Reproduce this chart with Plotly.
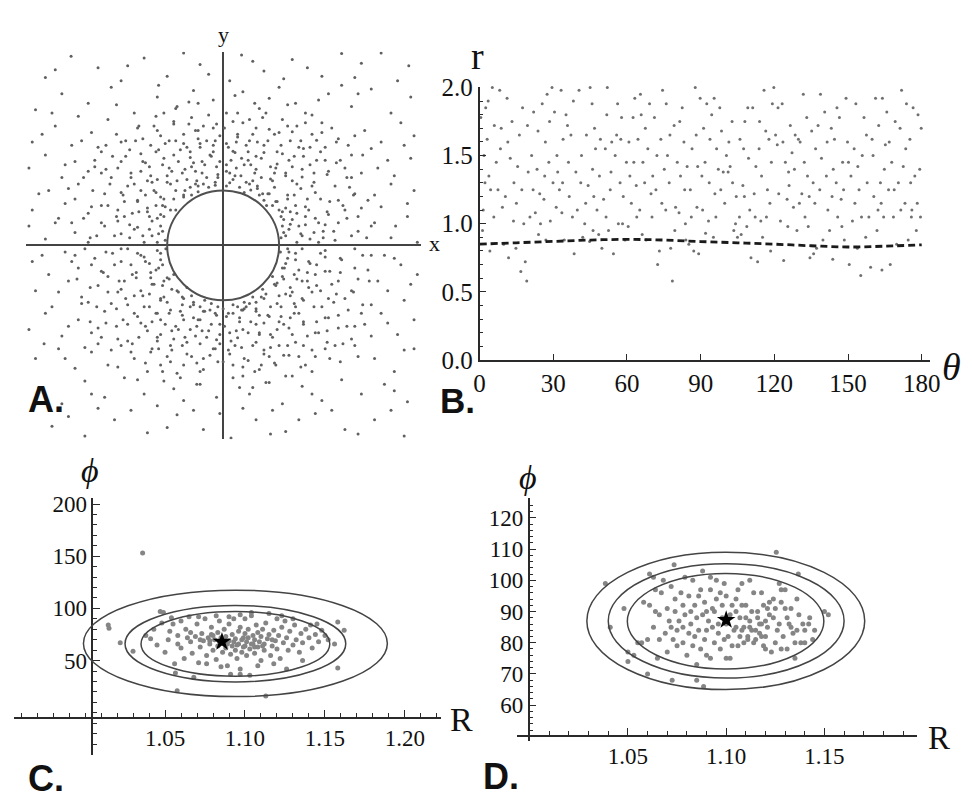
import plotly.graph_objects as go

W, H = 972, 806

# ---------------- Panel A: scattered points (x, y) ----------------
A_pts = [
(-2.31,2.93),(-1.9,2.75),(-1.2,2.9),(-0.85,2.62),(-0.35,2.8),(0.28,2.95),(0.62,2.7),(1.05,2.88),(1.5,2.62),(2.1,2.82),(2.65,2.55),(-2.7,2.6),(-0.6,2.98),(1.8,2.97),(0.1,2.55),(-1.55,2.55),(2.4,2.98),
(-2.85,2.1),(-2.45,2.35),(-2.05,2.2),(-1.7,2.45),(-1.35,2.05),(-1.0,2.3),(-0.7,2.15),(-0.45,2.4),(-0.15,2.25),(0.05,2.05),(0.3,2.38),(0.55,2.12),(0.85,2.45),(1.1,2.2),(1.35,2.02),(1.6,2.35),(1.95,2.15),(2.25,2.42),(2.55,2.05),(2.85,2.3),(-2.2,2.0),(0.7,2.28),(-0.9,2.05),(1.8,2.48),
(-2.9,1.6),(-2.55,1.85),(-2.3,1.55),(-2.0,1.75),(-1.75,1.95),(-1.55,1.6),(-1.3,1.82),(-1.1,1.55),(-0.95,1.7),(-0.75,1.92),(-0.6,1.58),(-0.42,1.78),(-0.25,1.62),(-0.1,1.88),(0.08,1.52),(0.22,1.72),(0.4,1.95),(0.52,1.6),(0.7,1.8),(0.88,1.55),(1.05,1.76),(1.25,1.9),(1.42,1.63),(1.65,1.82),(1.9,1.55),(2.15,1.78),(2.4,1.6),(2.7,1.9),(2.9,1.7),(-0.35,1.52),(0.35,1.55),(-1.9,1.52),(1.15,1.52),(-0.05,1.7),(0.6,1.98),
(-2.95,1.2),(-2.7,1.4),(-2.45,1.05),(-2.25,1.3),(-2.05,1.15),(-1.85,1.45),(-1.7,1.05),(-1.55,1.3),(-1.4,1.12),(-1.25,1.42),(-1.12,1.22),(-1.0,1.02),(-0.9,1.35),(-0.78,1.15),(-0.65,1.48),(-0.55,1.02),(-0.45,1.28),(-0.32,1.12),(-0.2,1.4),(-0.08,1.05),(0.05,1.25),(0.15,1.46),(0.27,1.08),(0.38,1.32),(0.5,1.18),(0.62,1.44),(0.72,1.03),(0.82,1.26),(0.95,1.12),(1.08,1.38),(1.2,1.06),(1.32,1.25),(1.48,1.45),(1.6,1.15),(1.78,1.32),(1.95,1.05),(2.12,1.4),(2.35,1.2),(2.6,1.08),(2.85,1.35),(-0.4,1.0),(0.45,1.0),(-1.15,1.0),
(-2.9,0.55),(-2.65,0.85),(-2.4,0.65),(-2.2,0.95),(-2.0,0.6),(-1.8,0.8),(-1.6,0.55),(-1.45,0.92),(-1.3,0.7),(-1.15,0.52),(-1.05,0.85),(-0.92,0.62),(-0.8,0.95),(-0.72,0.55),(-0.6,0.75),(-0.5,0.9),(-0.3,0.95),(-0.12,0.93),(0.1,0.97),(0.25,0.9),(0.42,0.86),(0.55,0.78),(0.66,0.62),(0.78,0.9),(0.85,0.55),(0.98,0.72),(1.12,0.95),(1.25,0.6),(1.4,0.82),(1.58,0.52),(1.75,0.7),(1.92,0.9),(2.1,0.58),(2.3,0.78),(2.55,0.95),(2.8,0.65),(-0.38,0.83),(0.7,0.8),(-1.5,0.68),(1.02,0.52),
(-2.95,0.3),(-2.7,0.1),(-2.5,0.42),(-2.25,0.2),(-2.05,0.05),(-1.85,0.35),(-1.65,0.15),(-1.5,0.45),(-1.35,0.25),(-1.2,0.05),(-1.08,0.38),(-0.98,0.18),(-0.9,0.45),(-0.88,0.08),(0.88,0.12),(0.92,0.4),(1.0,0.25),(1.12,0.05),(1.25,0.45),(1.38,0.2),(1.55,0.32),(1.7,0.08),(1.88,0.42),(2.05,0.22),(2.3,0.35),(2.55,0.12),(2.8,0.45),(2.95,0.05),(-1.6,0.38),(1.15,0.3),
(-2.9,-0.25),(-2.65,-0.45),(-2.4,-0.1),(-2.2,-0.35),(-1.95,-0.2),(-1.75,-0.48),(-1.55,-0.05),(-1.4,-0.3),(-1.25,-0.15),(-1.1,-0.42),(-1.0,-0.08),(-0.92,-0.3),(-0.87,-0.05),(0.87,-0.1),(0.9,-0.35),(0.98,-0.2),(1.08,-0.45),(1.2,-0.05),(1.32,-0.28),(1.48,-0.12),(1.62,-0.4),(1.8,-0.22),(2.0,-0.05),(2.2,-0.38),(2.45,-0.15),(2.7,-0.3),(2.95,-0.45),(-1.65,-0.3),(1.4,-0.45),(-2.1,-0.05),
(-2.85,-0.7),(-2.6,-0.95),(-2.35,-0.55),(-2.15,-0.8),(-1.9,-0.62),(-1.7,-0.9),(-1.5,-0.55),(-1.35,-0.78),(-1.2,-0.95),(-1.05,-0.6),(-0.95,-0.82),(-0.82,-0.52),(-0.7,-0.7),(-0.62,-0.92),(-0.48,-0.78),(-0.35,-0.95),(-0.18,-0.9),(0.0,-0.98),(0.15,-0.92),(0.32,-0.88),(0.45,-0.8),(0.6,-0.68),(0.72,-0.95),(0.82,-0.58),(0.95,-0.75),(1.08,-0.9),(1.2,-0.55),(1.35,-0.72),(1.5,-0.95),(1.65,-0.6),(1.85,-0.82),(2.05,-0.52),(2.25,-0.92),(2.5,-0.7),(2.75,-0.85),(-0.55,-0.65),(0.5,-0.98),(-1.6,-0.72),(1.72,-0.75),
(-2.95,-1.3),(-2.7,-1.05),(-2.45,-1.4),(-2.2,-1.15),(-2.0,-1.35),(-1.8,-1.02),(-1.62,-1.25),(-1.45,-1.48),(-1.3,-1.1),(-1.15,-1.32),(-1.02,-1.05),(-0.88,-1.22),(-0.75,-1.45),(-0.62,-1.08),(-0.5,-1.3),(-0.38,-1.15),(-0.25,-1.42),(-0.12,-1.05),(0.02,-1.25),(0.12,-1.48),(0.25,-1.12),(0.38,-1.35),(0.5,-1.02),(0.62,-1.2),(0.75,-1.42),(0.88,-1.1),(1.0,-1.28),(1.15,-1.05),(1.28,-1.4),(1.42,-1.18),(1.58,-1.32),(1.75,-1.08),(1.95,-1.45),(2.15,-1.22),(2.4,-1.05),(2.65,-1.38),(2.9,-1.15),(-0.3,-1.02),(0.3,-1.0),(-1.0,-1.48),
(-2.85,-1.75),(-2.5,-1.6),(-2.25,-1.9),(-2.0,-1.65),(-1.75,-1.85),(-1.55,-1.55),(-1.35,-1.75),(-1.15,-1.95),(-0.98,-1.6),(-0.8,-1.8),(-0.62,-1.55),(-0.48,-1.72),(-0.3,-1.92),(-0.15,-1.6),(0.0,-1.8),(0.18,-1.55),(0.32,-1.75),(0.48,-1.95),(0.62,-1.62),(0.8,-1.85),(0.98,-1.55),(1.15,-1.72),(1.35,-1.95),(1.55,-1.6),(1.78,-1.8),(2.0,-1.55),(2.3,-1.75),(2.6,-1.95),(2.9,-1.6),(-0.7,-1.98),(0.7,-1.72),(-1.9,-1.52),
(-2.8,-2.2),(-2.45,-2.45),(-2.1,-2.1),(-1.8,-2.35),(-1.5,-2.05),(-1.2,-2.3),(-0.9,-2.1),(-0.6,-2.4),(-0.35,-2.15),(-0.1,-2.35),(0.15,-2.05),(0.4,-2.3),(0.65,-2.12),(0.9,-2.45),(1.2,-2.18),(1.5,-2.4),(1.8,-2.08),(2.1,-2.3),(2.45,-2.15),(2.8,-2.42),(-1.0,-2.48),(1.05,-2.02),
(-2.6,-2.8),(-2.1,-2.95),(-1.65,-2.7),(-1.15,-2.9),(-0.7,-2.62),(-0.3,-2.85),(0.12,-2.98),(0.5,-2.7),(0.95,-2.88),(1.4,-2.6),(1.85,-2.85),(2.3,-2.7),(2.75,-2.95),(-1.9,-2.52),(0.75,-2.55),(-0.05,-2.6),(2.55,-2.55),
(0.92,0.2),(0.88,0.45),(0.75,0.62),(0.6,0.8),(0.4,0.95),(0.15,1.02),(-0.12,0.98),(-0.38,0.92),(-0.6,0.78),(-0.8,0.55),(-0.95,0.3),(-1.0,0.05),(-0.95,-0.22),(-0.85,-0.5),(-0.68,-0.72),(-0.45,-0.88),(-0.2,-1.0),(0.08,-1.05),(0.35,-0.95),(0.58,-0.8),(0.78,-0.6),(0.93,-0.35),(1.0,-0.1),
(1.2,0.15),(1.12,0.5),(0.98,0.78),(0.75,1.0),(0.48,1.12),(0.2,1.2),(-0.1,1.22),(-0.42,1.15),(-0.7,1.0),(-0.95,0.75),(-1.12,0.45),(-1.22,0.15),(-1.2,-0.18),(-1.1,-0.5),(-0.9,-0.8),(-0.65,-1.02),(-0.35,-1.15),(-0.05,-1.22),(0.25,-1.18),(0.55,-1.08),(0.82,-0.9),(1.02,-0.65),(1.15,-0.38),
(1.45,0.05),(1.4,0.42),(1.28,0.72),(1.05,1.0),(0.8,1.2),(0.5,1.38),(0.18,1.44),(-0.15,1.45),(-0.5,1.36),(-0.82,1.2),(-1.08,0.98),(-1.3,0.68),(-1.42,0.32),(-1.45,-0.05),(-1.38,-0.45),(-1.22,-0.78),(-1.0,-1.05),(-0.72,-1.25),(-0.42,-1.4),(-0.1,-1.46),(0.22,-1.43),(0.55,-1.35),(0.85,-1.18),(1.1,-0.95),(1.3,-0.65),(1.42,-0.3),
(-2.55,2.72),(-1.45,2.78),(-0.98,2.48),(-0.22,2.65),(0.45,2.85),(0.92,2.58),(1.28,2.75),(2.0,2.6),(2.82,2.78),(-0.52,2.22),(0.18,2.32),(1.45,2.25),(-1.62,2.18),(2.05,2.35),(-2.6,2.05),
(-2.75,1.72),(-2.4,1.25),(-2.15,1.62),(-1.95,1.22),(-1.62,1.72),(-1.48,1.38),(-1.33,1.62),(-1.18,1.28),(-1.05,1.85),(-0.98,1.48),(-0.85,1.08),(-0.72,1.62),(-0.68,1.3),(-0.52,1.88),(-0.5,1.45),(-0.38,1.65),(-0.28,1.25),(-0.15,1.55),(-0.05,1.3),(0.02,1.82),(0.1,1.12),(0.2,1.6),(0.32,1.25),(0.45,1.72),(0.58,1.35),(0.68,1.62),(0.78,1.12),(0.9,1.42),(0.98,1.85),(1.05,1.22),(1.18,1.62),(1.22,1.38),(1.38,1.12),(1.5,1.75),(1.55,1.32),(1.72,1.6),(1.85,1.2),(2.0,1.7),(2.25,1.5),(2.5,1.32),(2.75,1.55),(-0.58,1.18),(0.38,1.45),(-0.88,1.58),(1.32,1.52),(-1.78,1.18),(0.15,1.92),(-0.3,1.85),(0.85,1.75),(-1.25,1.15),
(-2.8,0.8),(-2.55,0.35),(-2.35,0.88),(-2.12,0.42),(-1.92,0.15),(-1.75,0.62),(-1.55,0.82),(-1.42,0.12),(-1.28,0.52),(-1.18,0.78),(-1.12,0.25),(-1.02,0.62),(-0.95,0.48),(-0.9,0.72),(-0.72,0.85),(-0.48,0.78),(-0.22,0.9),(0.05,0.92),(0.32,0.82),(0.52,0.92),(0.62,0.7),(0.8,0.68),(0.9,0.3),(0.95,0.58),(1.05,0.4),(1.08,0.78),(1.18,0.18),(1.3,0.55),(1.35,0.92),(1.45,0.35),(1.62,0.68),(1.68,0.22),(1.85,0.55),(2.0,0.8),(2.18,0.12),(2.4,0.6),(2.62,0.3),(2.9,0.85),(-1.35,0.95),(1.52,0.12),
(-2.75,-0.15),(-2.5,-0.72),(-2.3,-0.25),(-2.05,-0.88),(-1.85,-0.4),(-1.68,-0.12),(-1.55,-0.68),(-1.45,-0.92),(-1.32,-0.5),(-1.18,-0.25),(-1.12,-0.75),(-1.02,-0.38),(-0.92,-0.62),(-0.85,-0.88),(-0.75,-0.45),(-0.5,-0.95),(-0.28,-0.85),(-0.08,-0.95),(0.22,-0.95),(0.4,-0.9),(0.62,-0.82),(0.75,-0.48),(0.85,-0.78),(0.92,-0.52),(0.98,-0.05),(1.05,-0.72),(1.1,-0.22),(1.22,-0.85),(1.28,-0.42),(1.42,-0.62),(1.55,-0.18),(1.6,-0.82),(1.78,-0.42),(1.95,-0.7),(2.12,-0.15),(2.35,-0.55),(2.6,-0.2),(2.85,-0.6),(-0.6,-0.82),(0.28,-1.0),
(-2.72,-1.52),(-2.35,-1.25),(-2.1,-1.58),(-1.9,-1.28),(-1.7,-1.62),(-1.52,-1.15),(-1.38,-1.52),(-1.25,-1.2),(-1.1,-1.65),(-1.08,-1.18),(-0.95,-1.38),(-0.82,-1.05),(-0.78,-1.62),(-0.68,-1.3),(-0.55,-1.5),(-0.45,-1.12),(-0.4,-1.82),(-0.32,-1.32),(-0.2,-1.7),(-0.18,-1.22),(-0.05,-1.52),(0.05,-1.1),(0.1,-1.68),(0.2,-1.32),(0.3,-1.88),(0.42,-1.18),(0.45,-1.55),(0.55,-1.38),(0.68,-1.08),(0.72,-1.58),(0.82,-1.3),(0.92,-1.7),(1.02,-1.12),(1.1,-1.5),(1.22,-1.22),(1.35,-1.62),(1.45,-1.35),(1.6,-1.12),(1.7,-1.55),(1.88,-1.25),(2.05,-1.72),(2.25,-1.4),(2.5,-1.2),(2.75,-1.62),(-1.6,-1.88),(1.25,-1.85),(-0.95,-1.85),(0.58,-1.85),(-2.4,-1.75),(2.1,-1.05),
(-2.35,-2.65),(-1.4,-2.55),(-0.85,-2.82),(-0.45,-2.55),(0.3,-2.52),(0.72,-2.92),(1.15,-2.7),(1.65,-2.55),(2.05,-2.92),(-2.0,-2.3),(-0.75,-2.22),(0.25,-2.2),(1.35,-2.3),(2.6,-2.25),(-1.3,-2.08),
(0.95,0.15),(1.02,0.33),(0.9,0.52),(0.82,0.68),(0.68,0.8),(0.52,0.88),(0.35,0.98),(0.18,1.08),(0.05,1.15),(1.1,0.62),(1.25,0.32),(1.32,0.1),(1.18,0.88),(0.95,1.08),(0.72,1.22),(0.58,1.05),(0.42,1.25),(0.28,1.35),(0.12,1.32),(1.52,0.22),(1.6,0.48),(1.48,0.72),(1.38,0.98),(1.2,1.18),(1.0,1.32),(0.82,1.45),(0.62,1.55),(0.4,1.62),(0.22,1.68),(0.05,1.58),(1.75,0.35),(1.82,0.62),(1.7,0.92),(1.58,1.1),(1.42,1.32),(1.22,1.5),(1.02,1.62),(0.78,1.72),(0.5,1.82),(0.3,1.9),(1.95,0.15),(2.05,0.45),(1.98,0.78),(1.88,1.05),(1.72,1.28),(1.55,1.52),(1.35,1.72),(1.12,1.85),(0.9,1.95),(0.65,2.05),(2.25,0.3),(2.2,0.7),(2.1,1.12),(1.95,1.4),(1.75,1.65),(1.5,1.9),(1.25,2.05),(0.98,2.18),(0.48,2.2),(0.22,2.05),
(-0.92,0.22),(-1.0,0.42),(-0.88,0.6),(-0.75,0.72),(-0.58,0.85),(-0.42,0.95),(-0.25,1.05),(-0.08,1.1),(-1.08,0.15),(-1.15,0.58),(-1.02,0.82),(-0.85,0.98),(-0.62,1.12),(-0.48,1.22),(-0.32,1.3),(-0.18,1.38),(-1.3,0.28),(-1.38,0.5),(-1.25,0.85),(-1.1,1.08),(-0.92,1.25),(-0.75,1.4),(-0.55,1.52),(-0.35,1.58),(-0.12,1.62),(-1.55,0.18),(-1.62,0.45),(-1.52,0.78),(-1.4,1.05),(-1.22,1.3),(-1.02,1.45),(-0.82,1.62),(-0.6,1.72),(-0.38,1.78),(-0.15,1.82),(-1.8,0.3),(-1.85,0.62),(-1.72,0.95),(-1.6,1.2),(-1.42,1.48),(-1.22,1.65),(-1.0,1.78),(-0.75,1.88),(-0.48,1.98),(-0.22,2.02),(-2.02,0.12),(-2.05,0.5),(-1.98,0.85),(-1.85,1.12),(-1.68,1.38),(-1.48,1.62),(-1.28,1.85),(-1.02,2.0),(-0.72,2.12),(-0.38,2.2),(-2.3,0.35),(-2.25,0.72),(-2.12,1.05),(-1.95,1.32),(-1.78,1.55),
(-0.95,-0.12),(-0.98,-0.35),(-0.9,-0.55),(-0.78,-0.68),(-0.62,-0.8),(-0.45,-0.92),(-0.28,-1.02),(-0.1,-1.08),(-1.12,-0.28),(-1.08,-0.6),(-0.95,-0.85),(-0.8,-1.0),(-0.6,-1.15),(-0.4,-1.25),(-0.22,-1.32),(-0.05,-1.38),(-1.3,-0.12),(-1.32,-0.42),(-1.25,-0.7),(-1.12,-0.95),(-0.95,-1.15),(-0.78,-1.32),(-0.58,-1.42),(-0.35,-1.52),(-0.12,-1.6),(-1.55,-0.25),(-1.58,-0.55),(-1.48,-0.82),(-1.35,-1.05),(-1.18,-1.25),(-1.0,-1.42),(-0.8,-1.55),(-0.55,-1.68),(-0.3,-1.75),(-0.08,-1.8),(-1.78,-0.1),(-1.82,-0.42),(-1.75,-0.72),(-1.62,-0.98),(-1.45,-1.22),(-1.28,-1.42),(-1.08,-1.6),(-0.85,-1.72),(-0.6,-1.85),(-0.35,-1.95),(-2.0,-0.3),(-2.02,-0.65),(-1.92,-0.95),(-1.78,-1.2),(-1.6,-1.45),(-1.4,-1.65),(-1.18,-1.82),(-0.92,-1.95),(-0.65,-2.05),(-0.4,-2.15),(-2.25,-0.15),(-2.22,-0.52),(-2.15,-0.9),(-2.02,-1.18),(-1.85,-1.42),
(0.95,-0.28),(0.9,-0.48),(0.8,-0.62),(0.65,-0.75),(0.5,-0.88),(0.32,-0.98),(0.15,-1.05),(1.1,-0.12),(1.12,-0.52),(1.02,-0.78),(0.88,-0.95),(0.7,-1.1),(0.5,-1.22),(0.3,-1.3),(0.1,-1.35),(1.3,-0.25),(1.28,-0.55),(1.2,-0.82),(1.08,-1.05),(0.92,-1.22),(0.72,-1.38),(0.5,-1.5),(0.28,-1.58),(0.08,-1.62),(1.55,-0.08),(1.55,-0.4),(1.48,-0.7),(1.38,-0.95),(1.22,-1.18),(1.05,-1.38),(0.85,-1.55),(0.62,-1.68),(0.38,-1.78),(0.15,-1.85),(1.78,-0.2),(1.75,-0.55),(1.68,-0.88),(1.55,-1.12),(1.4,-1.35),(1.22,-1.55),(1.0,-1.7),(0.78,-1.82),(0.55,-1.92),(0.3,-2.02),(2.0,-0.35),(1.98,-0.72),(1.9,-1.0),(1.75,-1.28),(1.58,-1.5),(1.4,-1.72),(1.18,-1.88),(0.95,-2.02),(0.7,-2.12),(0.45,-2.2),(2.25,-0.15),(2.22,-0.55),(2.12,-0.92),(2.0,-1.25),(1.82,-1.52),(1.62,-1.75),
]
A_x = [p[0] for p in A_pts]
A_y = [p[1] for p in A_pts]
A_circle_r = 0.85

# ---------------- Panel B: (theta, r) ----------------
B_pts = [
(0.5,1.78),(1.2,0.95),(1.8,1.5),(2.5,1.85),(3.1,1.62),(3.8,1.35),(4.5,1.25),(5.2,2.0),(6.0,1.72),(6.8,1.45),(7.5,1.25),(8.2,1.98),(8.8,1.7),(9.3,1.12),(9.8,0.85),(4.2,0.8),
(10.5,1.2),(11.2,1.92),(11.8,0.75),(12.5,1.48),(13.2,1.75),(14.0,1.3),(14.8,0.82),(15.5,1.42),(16.2,1.65),(16.8,0.65),(17.5,1.85),(18.0,1.0),(18.6,0.72),(19.2,0.58),(19.8,1.38),(15.0,1.15),
(20.5,1.05),(21.2,1.5),(22.0,1.82),(22.7,1.08),(23.4,1.4),(24.0,0.92),(24.8,1.0),(25.5,1.88),(26.2,1.18),(26.8,1.6),(27.5,1.95),(28.2,1.45),(28.8,1.02),(29.5,2.0),(29.9,1.3),(27.0,0.88),
(30.5,1.82),(31.2,1.12),(31.8,1.38),(32.5,1.25),(33.2,1.98),(33.8,1.3),(34.5,0.88),(35.2,1.8),(35.8,1.72),(36.5,1.2),(37.2,1.65),(37.8,1.05),(38.5,0.78),(39.2,1.38),(39.8,1.1),(34.0,1.62),
(40.5,1.98),(41.2,1.3),(42.0,0.9),(42.8,1.0),(43.5,1.65),(44.2,1.28),(45.0,2.0),(45.8,1.88),(46.5,1.2),(47.2,1.55),(47.8,1.1),(48.5,0.92),(49.2,1.62),(49.8,0.82),(44.8,0.87),(46.0,1.4),
(50.5,1.18),(51.2,1.55),(51.8,1.8),(52.5,0.95),(53.2,1.25),(53.8,1.6),(54.5,0.78),(55.2,1.5),(55.8,1.65),(56.5,1.0),(57.2,1.3),(57.8,1.78),(58.5,1.2),(59.2,0.88),(59.8,1.45),(52.0,2.0),
(60.5,0.98),(61.2,1.35),(61.8,1.15),(62.5,1.78),(63.2,1.92),(63.8,1.28),(64.5,1.62),(65.2,1.1),(65.8,1.8),(66.5,1.45),(67.2,1.3),(67.8,0.88),(68.5,1.55),(69.2,1.88),(69.8,1.22),(64.0,1.05),
(70.5,1.35),(71.2,1.78),(71.8,1.25),(72.5,0.7),(73.2,0.8),(73.8,1.62),(74.5,1.98),(75.2,1.4),(75.8,1.1),(76.5,1.5),(77.2,1.3),(77.8,0.82),(78.5,0.58),(79.2,1.72),(79.8,1.12),(76.0,1.88),
(80.5,1.45),(81.2,1.08),(81.8,1.35),(82.5,1.85),(83.2,1.6),(83.8,1.0),(84.5,1.42),(85.2,0.85),(85.8,1.25),(86.5,1.55),(87.2,0.8),(87.8,2.0),(88.5,1.12),(89.2,0.78),(89.8,1.92),(84.0,0.88),
(90.5,1.35),(91.2,1.7),(91.8,1.45),(92.5,1.88),(93.2,1.02),(93.8,1.62),(94.5,1.8),(95.2,0.9),(95.8,1.22),(96.5,1.55),(97.2,1.4),(97.8,1.85),(98.5,1.68),(99.2,1.38),(99.8,1.15),(92.0,0.93),
(100.5,1.5),(101.2,1.38),(102.0,1.42),(102.8,1.75),(103.5,0.95),(104.2,1.0),(105.0,0.9),(105.8,1.05),(106.5,0.92),(107.2,1.28),(108.0,1.75),(108.8,0.98),(109.5,1.48),(110.0,1.1),(106.0,1.62),(103.0,1.3),
(110.5,0.75),(111.2,1.85),(111.8,1.22),(112.5,1.42),(113.2,0.72),(113.8,1.55),(114.5,1.02),(115.2,0.9),(115.8,1.98),(116.5,1.68),(117.2,1.25),(117.8,1.62),(118.5,0.8),(119.2,1.88),(119.8,2.0),(114.0,1.75),
(120.5,1.65),(121.2,1.58),(121.8,1.22),(122.5,1.02),(123.2,1.88),(123.8,0.73),(124.5,1.45),(125.2,1.18),(125.8,1.38),(126.5,1.72),(127.2,1.52),(127.8,1.12),(128.5,1.65),(129.2,0.95),(129.8,1.62),(126.0,1.28),
(130.5,1.6),(131.2,1.22),(131.8,1.95),(132.5,1.05),(133.2,1.78),(133.8,0.98),(134.5,0.75),(135.2,1.68),(135.8,1.3),(136.5,1.15),(137.2,0.82),(137.8,1.72),(138.5,1.25),(139.2,1.48),(139.8,0.88),(136.0,0.78),
(140.5,1.82),(141.2,1.35),(141.8,1.1),(142.5,0.95),(143.2,1.7),(143.8,0.74),(144.5,1.62),(145.2,1.3),(145.8,1.05),(146.5,1.78),(147.2,1.18),(147.8,1.45),(148.5,0.88),(149.2,1.92),(149.8,1.6),(144.0,1.4),
(150.5,0.7),(151.2,1.35),(151.8,1.02),(152.5,1.55),(153.2,1.88),(153.8,0.82),(154.5,1.25),(155.2,0.62),(155.8,1.5),(156.5,1.78),(157.2,0.9),(157.8,1.3),(158.5,1.05),(159.2,0.68),(159.8,1.62),(154.0,1.42),
(160.5,1.2),(161.2,1.92),(161.8,0.95),(162.5,1.72),(163.2,1.3),(163.8,0.66),(164.5,1.05),(165.2,1.58),(165.8,1.82),(166.5,1.25),(167.2,0.7),(167.8,1.45),(168.5,1.05),(169.2,1.75),(169.8,0.85),(164.0,1.92),
(170.5,1.3),(171.2,1.7),(171.8,1.98),(172.5,1.42),(173.2,1.15),(173.8,1.88),(174.5,0.88),(175.2,1.62),(175.8,1.05),(176.5,1.85),(177.2,1.35),(177.8,0.95),(178.5,1.8),(179.2,1.4),(179.8,1.7),(176.0,1.1),
(1.5,1.1),(3.5,1.9),(5.8,1.05),(8.5,1.55),(11.5,1.6),(13.8,1.02),(17.2,1.25),(19.5,1.72),(21.8,1.25),(23.8,1.68),(26.5,1.35),(28.5,1.75),(31.5,1.5),(33.5,1.08),(36.2,1.45),(38.2,1.9),(41.5,1.5),(43.2,1.15),(46.8,1.7),(48.8,1.35),(51.5,1.05),(53.5,1.38),(56.2,1.88),(58.2,1.0),(60.8,1.6),(62.8,1.45),(65.5,1.95),(67.5,1.7),(70.2,1.05),(72.2,1.5),(74.2,1.15),(77.5,1.65),(79.5,0.95),(81.5,1.75),(83.5,1.25),(86.2,1.05),(88.2,1.65),(90.8,1.1),(93.5,1.3),(96.2,1.05),(98.2,1.25),(101.5,1.6),(104.5,1.2),(107.5,1.55),(109.2,1.85),(112.2,1.05),(114.8,1.35),(116.8,1.05),(118.8,1.45),(121.5,1.85),(123.5,1.6),(125.5,0.98),(128.2,1.4),(130.2,1.15),(132.2,1.45),(134.2,1.2),(136.8,1.55),(138.8,1.95),(141.5,1.6),(143.5,1.2),(145.5,1.85),(148.2,1.25),(150.2,1.45),(152.8,1.15),(155.5,1.05),(157.5,1.65),(160.2,1.5),(162.2,1.1),(164.8,1.4),(166.8,1.6),(168.8,1.25),(171.5,1.1),(173.5,1.55),(175.5,1.3),(178.2,1.15),(179.5,1.05),(2.2,1.3),(46.2,0.95),(66.2,0.92),(95.5,1.92),(118.2,1.15),(133.5,1.35),(147.5,0.98),(163.5,1.15),(88.8,1.42),(57.5,1.62),(24.5,1.22),(107.8,1.2),
]
B_theta = [p[0] for p in B_pts]
B_r = [p[1] for p in B_pts]
B_mean_theta = [0, 15, 30, 45, 60, 75, 90, 105, 120, 135, 150, 165, 180]
B_mean_r = [0.85, 0.86, 0.87, 0.88, 0.885, 0.88, 0.869, 0.86, 0.85, 0.838, 0.829, 0.835, 0.845]
B_xticks = [0, 30, 60, 90, 120, 150, 180]
B_yticks = [0.0, 0.5, 1.0, 1.5, 2.0]
B_yticktext = ["0.0", "0.5", "1.0", "1.5", "2.0"]

# ---------------- Panel C: (R, phi) ----------------
C_pts = [
(1.036,153),(1.0145,84),(1.015,81),(1.022,67),(1.030,59),(1.047,97),(1.049,96),(1.0565,38),(1.0576,21),(1.068,34),(1.113,16),(1.126,42),(1.158,43),(1.158,87),(1.162,79),(1.156,66),(1.145,85),(1.141,84),(1.136,50),(1.103,36),(1.097,37),(1.091,37),(1.056,47),(1.038,74),(1.041,71),(1.045,65),(1.043,80),(1.05,58),(1.052,70),(1.055,85),(1.054,91),(1.058,74),(1.06,62),(1.062,52),(1.063,80),(1.065,92),(1.066,68),(1.067,57),(1.069,73),(1.07,85),(1.071,48),(1.072,63),(1.073,76),(1.074,69),(1.075,90),(1.076,55),(1.077,72),(1.078,66),(1.079,82),(1.08,60),(1.08,74),(1.081,70),(1.082,51),(1.083,77),(1.083,64),(1.084,88),(1.085,72),(1.086,58),(1.086,67),(1.087,80),(1.088,62),(1.088,73),(1.089,45),(1.09,69),(1.09,85),(1.091,56),(1.092,75),(1.092,64),(1.093,90),(1.094,60),(1.094,71),(1.095,52),(1.096,78),(1.096,66),(1.097,82),(1.098,58),(1.098,70),(1.099,63),(1.1,76),(1.1,90),(1.101,55),(1.101,68),(1.102,72),(1.102,80),(1.103,61),(1.104,66),(1.104,93),(1.105,74),(1.106,57),(1.106,70),(1.107,84),(1.108,63),(1.108,77),(1.109,68),(1.11,73),(1.11,50),(1.111,80),(1.112,60),(1.112,66),(1.113,86),(1.114,71),(1.115,75),(1.116,55),(1.117,64),(1.118,79),(1.119,69),(1.12,90),(1.12,61),(1.121,74),(1.122,52),(1.123,82),(1.124,67),(1.125,88),(1.126,72),(1.127,60),(1.128,78),(1.13,65),(1.131,84),(1.132,70),(1.134,58),(1.135,76),(1.136,67),(1.138,80),(1.14,72),(1.142,62),(1.144,75),(1.146,68),(1.148,79),(1.15,74),(1.152,70),(1.066,77),(1.072,70),(1.078,69),(1.084,68),(1.089,66),(1.095,65),(1.1,64),(1.106,63),(1.079,75),(1.087,71),(1.093,68),(1.099,72),(1.105,66),(1.111,64),(1.117,70),(1.064,72),(1.058,66),(1.053,78),(1.071,92),(1.082,93),(1.09,92),(1.097,94),(1.104,96),(1.115,95),(1.123,93),(1.13,90),(1.076,47),(1.085,44),(1.097,42),(1.108,45),(1.118,47),(1.06,88),(1.048,86),
]
C_R = [p[0] for p in C_pts]
C_phi = [p[1] for p in C_pts]
C_star = (1.0856, 68)
C_ell_cx = [1.094, 1.094, 1.094]
C_ell_cy = [66.5, 66.2, 66.0]
C_ell_a = [0.095, 0.069, 0.059]
C_ell_b = [51.0, 36.6, 31.0]
C_xticks = [1.05, 1.10, 1.15, 1.20]
C_xticktext = ["1.05", "1.10", "1.15", "1.20"]
C_yticks = [50, 100, 150, 200]

# ---------------- Panel D: (R, phi) ----------------
D_pts = [
(1.0385,99),(1.041,85),(1.05,77),(1.05,74),(1.048,91),(1.0735,105),(1.061,102),(1.0725,68),(1.0885,66),(1.085,73),(1.1255,109),(1.1367,102),(1.15,90),(1.152,89),(1.144,81),(1.1425,88),(1.057,80),(1.06,81),(1.063,101),(1.068,100),(1.072,98),(1.079,101),(1.083,100),(1.088,103),(1.092,101),(1.058,93),(1.061,92),(1.064,90),(1.066,89),(1.07,91),(1.074,90),(1.063,85),(1.066,81),(1.07,77),(1.073,81),(1.075,84),(1.078,80),(1.08,76),(1.082,86),(1.084,92),(1.086,95),(1.088,89),(1.09,84),(1.092,97),(1.094,90),(1.096,86),(1.098,92),(1.1,95),(1.102,89),(1.104,84),(1.106,97),(1.108,92),(1.11,88),(1.112,85),(1.114,96),(1.116,90),(1.118,86),(1.12,82),(1.122,93),(1.124,88),(1.126,84),(1.128,97),(1.13,91),(1.132,86),(1.134,83),(1.136,94),(1.138,80),(1.14,84),(1.1,75),(1.102,75),(1.097,78),(1.094,80),(1.09,76),(1.087,78),(1.084,82),(1.081,83),(1.078,85),(1.076,87),(1.074,94),(1.077,96),(1.081,95),(1.085,88),(1.089,93),(1.093,85),(1.096,83),(1.099,81),(1.101,82),(1.103,79),(1.105,85),(1.107,82),(1.109,80),(1.111,82),(1.113,84),(1.115,81),(1.117,83),(1.119,79),(1.121,85),(1.123,77),(1.125,80),(1.127,86),(1.129,82),(1.131,78),(1.133,85),(1.135,80),(1.137,89),(1.139,86),(1.105,90),(1.107,88),(1.11,92),(1.113,90),(1.116,88),(1.119,92),(1.122,89),(1.125,91),(1.128,93),(1.108,99),(1.112,100),(1.095,100),(1.099,99),(1.087,97),(1.079,89),(1.083,79),(1.067,96),(1.071,87),(1.075,79),(1.069,83),(1.1,86),(1.098,88),(1.095,94),(1.093,91),(1.091,87),(1.105,94),(1.109,85),(1.112,87),(1.115,84),(1.118,82),(1.12,87),(1.111,81),(1.114,80),(1.117,86),(1.108,84),(1.121,91),(1.124,94),(1.127,99),(1.13,97),(1.133,91),(1.136,84),(1.14,80),(1.142,86),(1.145,84),(1.065,75),(1.06,70),(1.055,80),(1.053,76),(1.085,68),(1.092,75),(1.135,75),(1.128,78),(1.12,78),(1.078,92),(1.082,90),(1.089,81),(1.097,96),(1.103,92),(1.106,79),(1.118,96),(1.131,88),(1.064,97),(1.072,85),(1.086,84),(1.09,90),
]
D_R = [p[0] for p in D_pts]
D_phi = [p[1] for p in D_pts]
D_star = (1.10, 87.3)
D_ell_cx = [1.0998, 1.100, 1.0997]
D_ell_cy = [87.0, 87.0, 86.9]
D_ell_a = [0.0707, 0.060, 0.050]
D_ell_b = [22.0, 18.3, 15.3]
D_xticks = [1.05, 1.10, 1.15]
D_xticktext = ["1.05", "1.10", "1.15"]
D_yticks = [60, 70, 80, 90, 100, 110, 120]


def px(x):
    return x / W


def py(y):
    return 1 - y / H


SERIF = "Liberation Serif, Times New Roman, serif"
SANS = "Liberation Sans, Arial, sans-serif"
AX = "#2a2a2a"

fig = go.Figure()

# A
fig.add_trace(go.Scatter(x=A_x, y=A_y, mode="markers", xaxis="x", yaxis="y",
                         marker=dict(size=3, color="#606060"), showlegend=False, hoverinfo="skip"))
# B
fig.add_trace(go.Scatter(x=B_theta, y=B_r, mode="markers", xaxis="x2", yaxis="y2", cliponaxis=False,
                         marker=dict(size=3, color="#707070"), showlegend=False, hoverinfo="skip"))
fig.add_trace(go.Scatter(x=B_mean_theta, y=B_mean_r, mode="lines", xaxis="x2", yaxis="y2",
                         line=dict(color="#1a1a1a", width=2.8, dash="7px,4px", shape="spline"),
                         showlegend=False, hoverinfo="skip"))
# C
fig.add_trace(go.Scatter(x=C_R, y=C_phi, mode="markers", xaxis="x3", yaxis="y3",
                         marker=dict(size=5, color="#858585"), showlegend=False, hoverinfo="skip"))
fig.add_trace(go.Scatter(x=[C_star[0]], y=[C_star[1]], mode="markers", xaxis="x3", yaxis="y3",
                         marker=dict(size=14, color="black", symbol="star"), showlegend=False, hoverinfo="skip"))
# D
fig.add_trace(go.Scatter(x=D_R, y=D_phi, mode="markers", xaxis="x4", yaxis="y4",
                         marker=dict(size=5, color="#858585"), showlegend=False, hoverinfo="skip"))
fig.add_trace(go.Scatter(x=[D_star[0]], y=[D_star[1]], mode="markers", xaxis="x4", yaxis="y4",
                         marker=dict(size=14, color="black", symbol="star"), showlegend=False, hoverinfo="skip"))

shapes = [dict(type="circle", xref="x", yref="y", x0=-A_circle_r, y0=-A_circle_r,
               x1=A_circle_r, y1=A_circle_r, line=dict(color="#505050", width=2))]
for cx, cy, a, b in zip(C_ell_cx, C_ell_cy, C_ell_a, C_ell_b):
    shapes.append(dict(type="circle", xref="x3", yref="y3", x0=cx - a, x1=cx + a, y0=cy - b, y1=cy + b,
                       line=dict(color="#444444", width=1.5)))
for cx, cy, a, b in zip(D_ell_cx, D_ell_cy, D_ell_a, D_ell_b):
    shapes.append(dict(type="circle", xref="x4", yref="y4", x0=cx - a, x1=cx + a, y0=cy - b, y1=cy + b,
                       line=dict(color="#444444", width=1.5)))

tickfont_b = dict(family=SERIF, size=25, color="#111111")
tickfont_cd = dict(family=SERIF, size=23, color="#111111")

plain = dict(showgrid=False, showticklabels=False, ticks="", showline=False)

fig.update_layout(
    width=W, height=H, margin=dict(l=0, r=0, t=0, b=0),
    paper_bgcolor="white", plot_bgcolor="rgba(0,0,0,0)",
    shapes=shapes,
    # Panel A
    xaxis=dict(domain=[px(20), px(422)], range=[-3, 3], anchor="y", zeroline=True,
               zerolinecolor="#444444", zerolinewidth=1.5, **plain),
    yaxis=dict(domain=[py(441), py(40)], range=[-3, 3], anchor="x", zeroline=True,
               zerolinecolor="#444444", zerolinewidth=1.5, **plain),
    # Panel B
    xaxis2=dict(domain=[px(482), px(940)], range=[0, 180 * (940 - 482) / (932 - 482)], anchor="y2",
                showgrid=False, zeroline=False, showline=True, linecolor=AX, linewidth=1.5,
                tickmode="array", tickvals=B_xticks, ticks="inside", ticklen=6, tickcolor=AX,
                tickfont=tickfont_b),
    yaxis2=dict(domain=[py(359), py(77)], range=[0, 2.0], anchor="x2",
                showgrid=False, zeroline=False, showline=True, linecolor=AX, linewidth=1.5,
                tickmode="array", tickvals=B_yticks, ticktext=B_yticktext, ticks="inside", ticklen=7,
                tickcolor=AX, tickfont=tickfont_b,
                minor=dict(tickmode="linear", tick0=0, dtick=0.1, ticks="inside", ticklen=4, tickcolor=AX)),
    # Panel C
    xaxis3=dict(domain=[px(8), px(443)], range=[0.9555, 1.2227], anchor="free", position=py(729),
                showgrid=False, zeroline=False, showline=True, linecolor=AX, linewidth=1.5,
                tickmode="array", tickvals=C_xticks, ticktext=C_xticktext, ticks="inside", ticklen=7,
                tickcolor=AX, tickfont=tickfont_cd,
                minor=dict(tickmode="linear", tick0=1.0, dtick=0.01, ticks="inside", ticklen=4, tickcolor=AX)),
    yaxis3=dict(domain=[py(768), py(502)], range=[-40.7, 205.6], anchor="free", position=px(88),
                showgrid=False, zeroline=False, showline=True, linecolor=AX, linewidth=1.5,
                tickmode="array", tickvals=C_yticks, ticks="inside", ticklen=7,
                tickcolor=AX, tickfont=tickfont_cd,
                minor=dict(tickmode="linear", tick0=0, dtick=10, ticks="inside", ticklen=4, tickcolor=AX)),
    # Panel D
    xaxis4=dict(domain=[px(520), px(927)], range=[0.9935, 1.197], anchor="free", position=py(748),
                showgrid=False, zeroline=False, showline=True, linecolor=AX, linewidth=1.5,
                tickmode="array", tickvals=D_xticks, ticktext=D_xticktext, ticks="inside", ticklen=7,
                tickcolor=AX, tickfont=tickfont_cd,
                minor=dict(tickmode="linear", tick0=1.0, dtick=0.01, ticks="inside", ticklen=4, tickcolor=AX)),
    yaxis4=dict(domain=[py(753), py(502)], range=[48.6, 126.3], anchor="free", position=px(532),
                showgrid=False, zeroline=False, showline=True, linecolor=AX, linewidth=1.5,
                tickmode="array", tickvals=D_yticks, ticks="inside", ticklen=7,
                tickcolor=AX, tickfont=tickfont_cd,
                minor=dict(tickmode="linear", tick0=0, dtick=2, ticks="inside", ticklen=4, tickcolor=AX)),
)


def ann(text, x, y, size, family=SERIF, xanchor="center", yanchor="middle", color="#111111"):
    fig.add_annotation(text=text, x=px(x), y=py(y), xref="paper", yref="paper", showarrow=False,
                       xanchor=xanchor, yanchor=yanchor, font=dict(family=family, size=size, color=color))


# axis labels
ann("x", 436, 239, 22)
ann("y", 221, 22, 22)
ann("r", 480, 44, 38)
ann("<i>θ</i>", 962, 366, 38)
ann("<i>ϕ</i>", 86, 473, 34)
ann("R", 464, 731, 34)
ann("<i>ϕ</i>", 531, 481, 34)
ann("R", 950, 750, 33)

# panel letters
ann("<b>A.</b>", 20, 400, 36, family=SANS, xanchor="left")
ann("<b>B.</b>", 440, 401, 35, family=SANS, xanchor="left")
ann("<b>C.</b>", 20, 792, 36, family=SANS, xanchor="left")
ann("<b>D.</b>", 483, 790, 36, family=SANS, xanchor="left")

fig.write_html("out.html", config={"displayModeBar": False},
               post_script="document.body.style.margin='0';")
